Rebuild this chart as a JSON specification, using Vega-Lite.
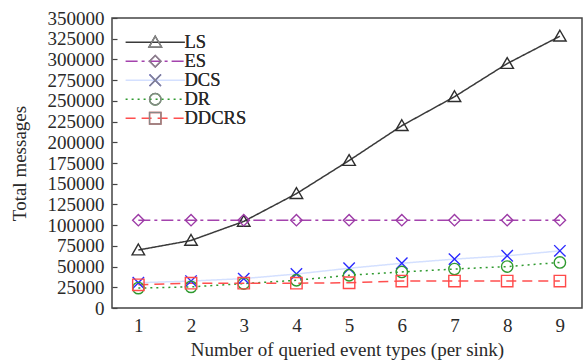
{
  "$schema": "https://vega.github.io/schema/vega-lite/v6.json",
  "width": 470,
  "height": 290,
  "autosize": {"type": "none"},
  "padding": {"left": 112, "top": 18, "right": 3, "bottom": 52},
  "background": "white",
  "config": {
    "view": {"stroke": "#444444", "strokeWidth": 1.5},
    "font": "Liberation Serif",
    "axis": {
      "labelFont": "Liberation Serif",
      "titleFont": "Liberation Serif",
      "labelFontSize": 19,
      "titleFontSize": 19,
      "titleFontWeight": "normal",
      "labelColor": "#2a2a2a",
      "titleColor": "#2a2a2a",
      "domain": false,
      "grid": false,
      "tickColor": "#444444",
      "tickWidth": 1.2
    },
    "legend": {
      "padding": 0,
      "labelFont": "Liberation Serif",
      "labelFontSize": 18.5,
      "labelColor": "#2a2a2a",
      "rowPadding": 0
    }
  },
  "data": {
    "values": [
      {"n": 1, "series": "LS", "v": 70000},
      {"n": 2, "series": "LS", "v": 81500},
      {"n": 3, "series": "LS", "v": 104500},
      {"n": 4, "series": "LS", "v": 138000},
      {"n": 5, "series": "LS", "v": 178000},
      {"n": 6, "series": "LS", "v": 220000},
      {"n": 7, "series": "LS", "v": 255000},
      {"n": 8, "series": "LS", "v": 295000},
      {"n": 9, "series": "LS", "v": 328000},
      {"n": 1, "series": "ES", "v": 106000},
      {"n": 2, "series": "ES", "v": 106000},
      {"n": 3, "series": "ES", "v": 106000},
      {"n": 4, "series": "ES", "v": 106000},
      {"n": 5, "series": "ES", "v": 106000},
      {"n": 6, "series": "ES", "v": 106000},
      {"n": 7, "series": "ES", "v": 106000},
      {"n": 8, "series": "ES", "v": 106000},
      {"n": 9, "series": "ES", "v": 106000},
      {"n": 1, "series": "DCS", "v": 30500},
      {"n": 2, "series": "DCS", "v": 32500},
      {"n": 3, "series": "DCS", "v": 35500},
      {"n": 4, "series": "DCS", "v": 41000},
      {"n": 5, "series": "DCS", "v": 48000},
      {"n": 6, "series": "DCS", "v": 54000},
      {"n": 7, "series": "DCS", "v": 59000},
      {"n": 8, "series": "DCS", "v": 63000},
      {"n": 9, "series": "DCS", "v": 69000},
      {"n": 1, "series": "DR", "v": 24000},
      {"n": 2, "series": "DR", "v": 25500},
      {"n": 3, "series": "DR", "v": 29500},
      {"n": 4, "series": "DR", "v": 33500},
      {"n": 5, "series": "DR", "v": 39500},
      {"n": 6, "series": "DR", "v": 43500},
      {"n": 7, "series": "DR", "v": 47000},
      {"n": 8, "series": "DR", "v": 50000},
      {"n": 9, "series": "DR", "v": 55000},
      {"n": 1, "series": "DDCRS", "v": 28000},
      {"n": 2, "series": "DDCRS", "v": 30000},
      {"n": 3, "series": "DDCRS", "v": 30000},
      {"n": 4, "series": "DDCRS", "v": 30000},
      {"n": 5, "series": "DDCRS", "v": 30500},
      {"n": 6, "series": "DDCRS", "v": 32500},
      {"n": 7, "series": "DDCRS", "v": 32500},
      {"n": 8, "series": "DDCRS", "v": 32500},
      {"n": 9, "series": "DDCRS", "v": 32500}
    ]
  },
  "encoding": {
    "x": {
      "field": "n",
      "type": "quantitative",
      "scale": {"domain": [0.5, 9.42], "nice": false, "zero": false},
      "axis": {
        "title": "Number of queried event types (per sink)",
        "values": [1, 1.5, 2, 2.5, 3, 3.5, 4, 4.5, 5, 5.5, 6, 6.5, 7, 7.5, 8, 8.5, 9],
        "format": "d",
        "labelExpr": "datum.value % 1 === 0 ? datum.label : ''",
        "labelOverlap": false,
        "tickSize": -5,
        "labelPadding": 13,
        "tickOpacity": {"condition": {"test": "datum.value % 1 === 0", "value": 0}, "value": 1},
        "titlePadding": 5
      }
    },
    "y": {
      "field": "v",
      "type": "quantitative",
      "scale": {"domain": [0, 350000], "nice": false},
      "axis": {
        "title": "Total messages",
        "values": [0, 25000, 50000, 75000, 100000, 125000, 150000, 175000, 200000, 225000, 250000, 275000, 300000, 325000, 350000],
        "format": "d",
        "labelOverlap": false,
        "tickSize": -5,
        "labelPadding": 13,
        "titlePadding": 18
      }
    }
  },
  "layer": [
    {
      "mark": {"type": "line", "strokeWidth": 1.5},
      "encoding": {
        "stroke": {
          "field": "series",
          "type": "nominal",
          "scale": {
            "domain": ["LS", "ES", "DCS", "DR", "DDCRS"],
            "range": ["#3a3a3a", "#a443ad", "#d4e0ff", "#2f9a2f", "#ff4f4f"]
          },
          "legend": {
            "title": null,
            "orient": "top-left",
            "offset": 15,
            "zindex": 0,
            "symbolType": "M-5.2,0L5.2,0",
            "symbolSize": 130,
            "symbolOffset": 19,
            "symbolStrokeWidth": 1.5,
            "labelExpr": "' '"
          }
        },
        "strokeDash": {
          "field": "series",
          "type": "nominal",
          "scale": {
            "domain": ["LS", "ES", "DCS", "DR", "DDCRS"],
            "range": [[1, 0], [12, 4, 3, 4], [1, 0], [2, 4], [10, 6]]
          },
          "legend": {
            "title": null,
            "orient": "top-left",
            "offset": 15,
            "zindex": 0,
            "symbolType": "M-5.2,0L5.2,0",
            "symbolSize": 130,
            "symbolOffset": 19,
            "symbolStrokeWidth": 1.5,
            "labelExpr": "' '"
          }
        }
      }
    },
    {
      "mark": {"type": "point", "filled": false, "size": 130, "strokeWidth": 1.4, "opacity": 1},
      "encoding": {
        "color": {
          "field": "series",
          "type": "nominal",
          "scale": {
            "domain": ["LS", "ES", "DCS", "DR", "DDCRS"],
            "range": ["#2e2e2e", "#9c3aa6", "#2a2aff", "#2f9a2f", "#ff4a4a"]
          },
          "legend": {
            "title": null,
            "orient": "none",
            "legendX": 15,
            "legendY": 15,
            "zindex": 1,
            "symbolSize": 130,
            "symbolOffset": 19,
            "symbolStrokeWidth": 1.4,
            "labelOffset": 20
          }
        },
        "shape": {
          "field": "series",
          "type": "nominal",
          "scale": {
            "domain": ["LS", "ES", "DCS", "DR", "DDCRS"],
            "range": ["M0,-1.05L1.1,0.85L-1.1,0.85Z", "M0,-1L1,0L0,1L-1,0Z", "M-1,-1L1,1M-1,1L1,-1", "circle", "M-1,-1L1,-1L1,1L-1,1Z"]
          },
          "legend": {
            "title": null,
            "orient": "none",
            "legendX": 15,
            "legendY": 15,
            "zindex": 1,
            "symbolSize": 130,
            "symbolOffset": 19,
            "symbolStrokeWidth": 1.4,
            "labelOffset": 20
          }
        }
      }
    }
  ]
}
